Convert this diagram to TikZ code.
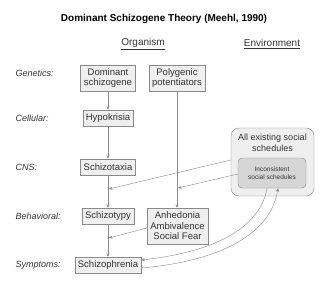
\documentclass[tikz,border=0pt]{standalone}
\usepackage{fontspec}
\setmainfont{Liberation Sans}
\usepackage{tikz}
\usetikzlibrary{arrows.meta, positioning, calc}
\usepackage{xcolor}
\definecolor{boxfill}{HTML}{EFEFEF}
\definecolor{boxline}{HTML}{8A8A8A}
\definecolor{innerfill}{HTML}{D6D6D6}
\definecolor{txt}{HTML}{333333}

\begin{document}
\begin{tikzpicture}[x=1pt, y=-1pt,
		box/.style={draw=boxline, fill=boxfill, text=txt, font=\fontsize{9.5}{10.5}\selectfont,
			align=center, inner sep=2pt, minimum height=16pt},
		lvl/.style={text=txt, font=\fontsize{9}{10}\selectfont\itshape, anchor=west},
		arr/.style={draw=boxline, -{Stealth[length=3.5pt, width=3pt]}},
		conn/.style={draw=boxline}]
	\useasboundingbox (0,0) rectangle (328,288);

	% Titel und Spalten
	\node[font=\fontsize{10}{12}\selectfont\bfseries] (title) at (164,19) {Dominant Schizogene Theory (Meehl, 1990)};
	\node[text=txt, font=\fontsize{10}{12}\selectfont] (organism) at (143,44) {\underline{Organism}};
	\node[text=txt, font=\fontsize{10}{12}\selectfont] (environment) at (272,44) {\underline{Environment}};

	% Ebenen
	\node[lvl] (genetics) at (12,73) {Genetics:};
	\node[lvl] (cellular) at (12,118) {Cellular:};
	\node[lvl] (cns) at (12,167) {CNS:};
	\node[lvl] (behavioral) at (12,216) {Behavioral:};
	\node[lvl] (symptoms) at (12,265) {Symptoms:};

	% Organismus
	\node[box, minimum width=55pt, minimum height=26pt] (schizogene) at (108,78) {Dominant\\schizogene};
	\node[box, minimum width=56pt, minimum height=26pt] (polygenic) at (177,78) {Polygenic\\potentiators};
	\node[box, minimum width=50pt] (hypokrisia) at (108,118) {Hypokrisia};
	\node[box, minimum width=55pt] (schizotaxia) at (108,167) {Schizotaxia};
	\node[box, minimum width=52pt] (schizotypy) at (108,216) {Schizotypy};
	\node[box, minimum width=61pt, minimum height=36pt] (anhedonia) at (177.5,226) {Anhedonia\\Ambivalence\\Social Fear};
	\node[box, minimum width=66pt] (schizophrenia) at (108,265) {Schizophrenia};

	% Umwelt
	\node[draw=boxline, fill=boxfill, rounded corners=8pt, minimum width=83pt, minimum height=68pt] (allsched) at (272.5,162) {};
	\node[text=txt, font=\fontsize{9}{10.5}\selectfont, align=center, anchor=north] (alltext) at (272.5,130.5) {All existing social\\schedules};
	\node[draw=boxline, fill=innerfill, rounded corners=4pt, minimum width=68pt, minimum height=30pt,
		text=txt, font=\fontsize{6.5}{8.5}\selectfont, align=center] (inconsistent) at (272,173) {Inconsistent\\social schedules};

	% Verbindungen
	\draw[arr] (schizogene) -- (hypokrisia);
	\draw[arr] (hypokrisia) -- (schizotaxia);
	\draw[arr] (schizotaxia) -- (schizotypy);
	\draw[arr] (schizotypy) -- (schizophrenia);
	\draw[arr] (polygenic.south) -- (polygenic.south |- anhedonia.north);

	\coordinate (cnsjoin) at (109,189);
	\coordinate (polyjoin) at (178,188);
	\coordinate (behjoin) at (109,238);
	\draw[arr] (allsched.west |- 0,160) -- (cnsjoin);
	\draw[arr] (inconsistent.west |- 0,174) -- (polyjoin);
	\draw[arr] (anhedonia.west |- 0,228) -- (behjoin);

	\draw[arr] ($(inconsistent.south)+(-5,0)$) .. controls (262,218) and (232,250) .. (schizophrenia.east |- 0,260);
	\draw[arr] (schizophrenia.east |- 0,268) .. controls (212,262) and (270,238) .. ($(inconsistent.south)+(6,0)$);
\end{tikzpicture}
\end{document}
